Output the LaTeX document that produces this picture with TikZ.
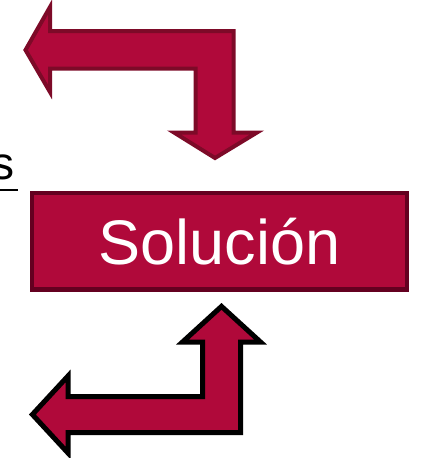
\documentclass[tikz,border=0pt]{standalone}
\usepackage{fontspec}
\setmainfont{Liberation Sans}
\definecolor{crimson}{RGB}{176,9,58}
\definecolor{arrowedge}{RGB}{125,10,40}
\definecolor{boxedge}{RGB}{100,0,32}
\tikzset{
  toparrow/.style={fill=crimson, draw=arrowedge, line width=4pt, line join=miter},
  botarrow/.style={fill=crimson, draw=black, line width=5pt, line join=miter},
  solbox/.style={rectangle, fill=crimson, draw=boxedge, line width=4.5pt,
    minimum width=375pt, minimum height=96.5pt, inner sep=0pt,
    text=white, font=\fontsize{63}{70}\selectfont}
}
\begin{document}
\begin{tikzpicture}[x=1pt,y=-1pt]
\useasboundingbox (0,0) rectangle (421,458);
\clip (0,0) rectangle (421,458);
% top arrow
\draw[toparrow] (25.5,50) -- (50,7) -- (50,31) -- (233.5,31) -- (233.5,132.5)
  -- (257,132.5) -- (215,158) -- (174,132.5) -- (195.5,132.5) -- (195.5,68.5)
  -- (50,68.5) -- (50,92) -- cycle;
% box
\node[solbox] (sol) at (219.5,241.25) {Solución};
% bottom arrow
\draw[botarrow] (221.5,306.4) -- (260.5,342) -- (240.5,342) -- (240.5,432.5)
  -- (68,432.5) -- (68,453) -- (32.4,414.5) -- (68,376) -- (68,396.5)
  -- (202.5,396.5) -- (202.5,342) -- (182.5,342) -- cycle;
% cut-off underlined word
\node[anchor=base east, inner sep=0pt, font=\fontsize{46}{50}\selectfont] (s) at (14.5,179.5) {s};
\draw[line width=2pt] (0,190) -- (17.7,190);
\end{tikzpicture}
\end{document}
